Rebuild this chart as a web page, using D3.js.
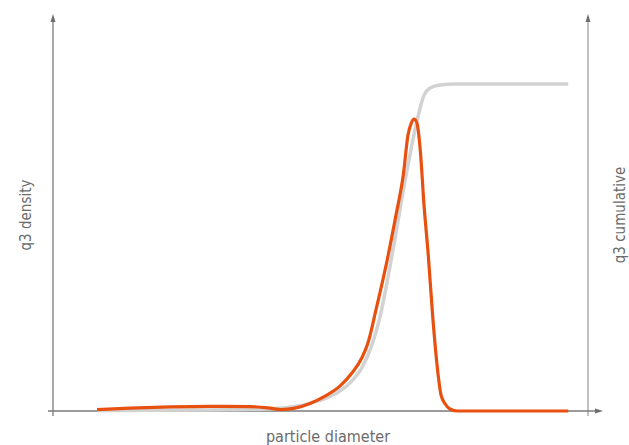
<!DOCTYPE html>
<html>
<head>
<meta charset="utf-8">
<script src="https://cdn.jsdelivr.net/npm/d3@7/dist/d3.min.js"></script>
<style>
  html, body { margin: 0; padding: 0; background: #fff; }
  svg { display: block; }
  text { font-family: "Liberation Sans Narrow", "DejaVu Sans Condensed", "Liberation Sans", sans-serif; fill: #6b6b6b; }
</style>
</head>
<body>
<svg id="chart" width="629" height="445"></svg>
<script>
// Particle diameter positions (relative units, 0 = first bin, 100 = last bin)
const diameter = [0, 7.0, 15.5, 24.0, 32.5, 36.3, 39.1, 42.0, 45.2, 48.4, 51.6, 54.1, 56.3, 57.5, 59.2,
  61.4, 63.5, 65.0, 66.0, 66.7, 67.3, 67.9, 68.6, 69.4, 70.3, 71.3, 72.4, 73.0, 73.9, 74.9, 76.6, 100];
// q3 density (relative to the mode = 100)
const density = [0.5, 1.0, 1.4, 1.6, 1.5, 1.1, 0.5, 1.0, 2.6, 5.1, 8.6, 13.0, 18.5, 23.3, 34.6,
  50.3, 67.5, 80.8, 94.5, 98.6, 100, 98.6, 89.4, 70.5, 53.4, 31.2, 12.3, 5.5, 2.4, 0.7, 0, 0];

// Cumulative distribution sample positions and values (%)
const cumDiameter = [0, 11.3, 21.9, 32.5, 37.8, 42.0, 46.3, 50.5, 53.7, 56.3, 58.2, 60.1, 62.8,
  65.4, 68.1, 69.4, 70.7, 72.8, 76.0, 100];
const cumulative = [0.15, 0.2, 0.3, 0.5, 0.8, 1.4, 2.8, 5.2, 8.6, 13.5, 19.6, 29.1, 49.2,
  70.6, 89.9, 96.6, 98.8, 99.7, 100, 100];

const axisLabels = { x: "particle diameter", yLeft: "q3 density", yRight: "q3 cumulative" };

const svg = d3.select("#chart");
const plotLeft = 53, plotRight = 588, plotTop = 14, plotBottom = 411;

const x = d3.scaleLinear().domain([-9.34, 104.2]).range([plotLeft, plotRight]);
const yDensity = d3.scaleLinear().domain([0, 100]).range([plotBottom, 119]);
const yCum = d3.scaleLinear().domain([0, 100]).range([plotBottom, 84]);

const axisColor = "#7a7a7a";
const g = svg.append("g");

// Axes: left (density), right (cumulative), bottom (diameter)
g.append("line").attr("x1", plotLeft).attr("x2", plotLeft).attr("y1", plotTop + 4).attr("y2", plotBottom + 5)
  .attr("stroke", axisColor).attr("stroke-width", 1.3);
g.append("line").attr("x1", plotRight).attr("x2", plotRight).attr("y1", plotTop + 4).attr("y2", plotBottom + 5)
  .attr("stroke", "#a0a0a0").attr("stroke-width", 1.3);
g.append("line").attr("x1", plotLeft - 5).attr("x2", 598).attr("y1", plotBottom).attr("y2", plotBottom)
  .attr("stroke", axisColor).attr("stroke-width", 1.3);

// Arrowheads
const arrow = (pts) => g.append("path").attr("d", "M" + pts.map(p => p.join(",")).join("L") + "Z")
  .attr("fill", "#6e6e6e");
arrow([[plotLeft, plotTop], [plotLeft - 2.5, plotTop + 8], [plotLeft + 2.5, plotTop + 8]]);
arrow([[plotRight, plotTop], [plotRight - 2.5, plotTop + 8], [plotRight + 2.5, plotTop + 8]]);
arrow([[603, plotBottom], [595, plotBottom - 2.5], [595, plotBottom + 2.5]]);

// Cumulative curve (light grey)
const cumLine = d3.line().x((d, i) => x(cumDiameter[i])).y(d => yCum(d)).curve(d3.curveMonotoneX);
g.append("path").attr("d", cumLine(cumulative))
  .attr("fill", "none").attr("stroke", "#d2d2d2").attr("stroke-width", 3.5).attr("stroke-linejoin", "round");

// Density curve (orange)
const densLine = d3.line().x((d, i) => x(diameter[i])).y(d => yDensity(d)).curve(d3.curveMonotoneX);
g.append("path").attr("d", densLine(density))
  .attr("fill", "none").attr("stroke", "#e8500f").attr("stroke-width", 3.2).attr("stroke-linejoin", "round");

// Axis titles
svg.append("text").attr("x", 328).attr("y", 442).attr("text-anchor", "middle")
  .attr("font-size", 16).text(axisLabels.x);
svg.append("text").attr("transform", "translate(31,215) rotate(-90)").attr("text-anchor", "middle")
  .attr("font-size", 15).text(axisLabels.yLeft);
svg.append("text").attr("transform", "translate(624.5,215) rotate(-90)").attr("text-anchor", "middle")
  .attr("font-size", 15).text(axisLabels.yRight);
</script>
</body>
</html>
